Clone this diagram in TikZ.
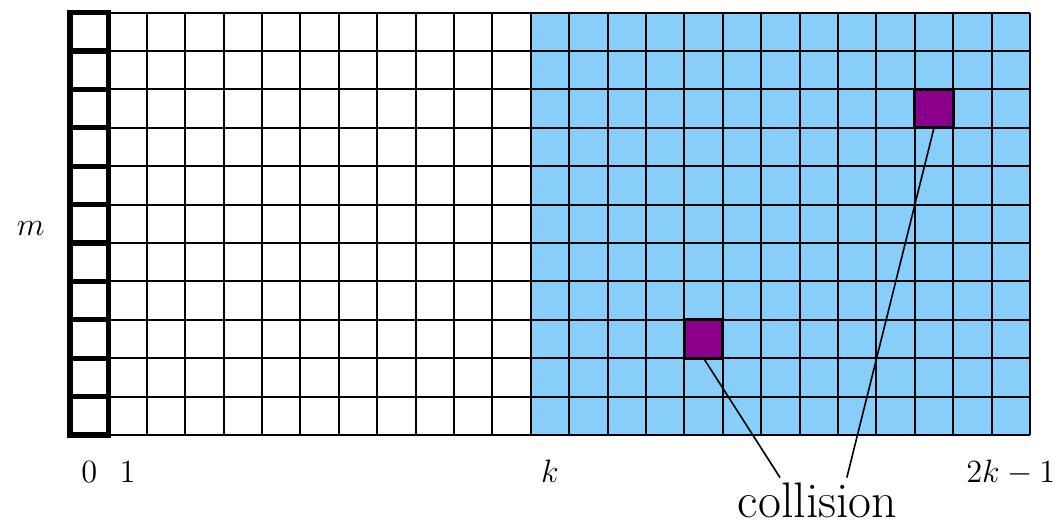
\documentclass[tikz,border=0pt]{standalone}
\usetikzlibrary{calc}

\begin{document}
\begin{tikzpicture}[x=0.5cm, y=0.5cm,
    gridline/.style={draw=black, line width=0.75pt},
    thickcell/.style={draw=black, line width=1.9pt},
    collcell/.style={draw=black, line width=1pt, fill=collColour,
        minimum size=0.5cm, inner sep=0pt, outer sep=0pt, anchor=south west},
    lbl/.style={font=\fontsize{13}{15}\selectfont, anchor=base}]
    % Define grid size
    \def\numCols{25}
    \def\numRows{11}
    \def\half{12}

    \definecolor{blueColour}{HTML}{87CEFA}
    \definecolor{collColour}{HTML}{8B008B}

    \useasboundingbox (-1.823,-2.292) rectangle (25.755,11.328);

    % Fill the second half
    \fill[blueColour] (\half,0) rectangle (\numCols,\numRows);

    % Draw grid
    \foreach \x in {1,...,\numCols}
        \draw[gridline] (\x,0) -- (\x,\numRows);
    \foreach \y in {0,...,\numRows}
        \draw[gridline] (1,\y) -- (\numCols,\y);

    % Draw column 0
    \foreach \y in {0,...,10}
        \draw[thickcell] (0,\y) rectangle (1,\y+1);

    % Collided cells
    \node[collcell] (collA) at (16,2) {};
    \node[collcell] (collB) at (22,8) {};

    % Labels
    \node[lbl] (zero) at (0.5,-1.25) {$0$};
    \node[lbl] (one) at (1.5,-1.25) {$1$};
    \node[lbl] (kay) at (12.5,-1.25) {$k$};
    \node[lbl] (last) at (24.5,-1.25) {$2k-1$};
    \node[lbl] (em) at (-1.02,5.2) {$m$};
    \node[font=\fontsize{18.5}{22}\selectfont, anchor=base] (coll) at (19.47,-2.14) {collision};

    % Connect collided cells to the label
    \draw[line width=0.6pt] (collA.south) -- ($(coll.north)+(-0.98,-0.12)$);
    \draw[line width=0.6pt] (collB.south) -- ($(coll.north)+(0.76,-0.12)$);

\end{tikzpicture}
\end{document}
